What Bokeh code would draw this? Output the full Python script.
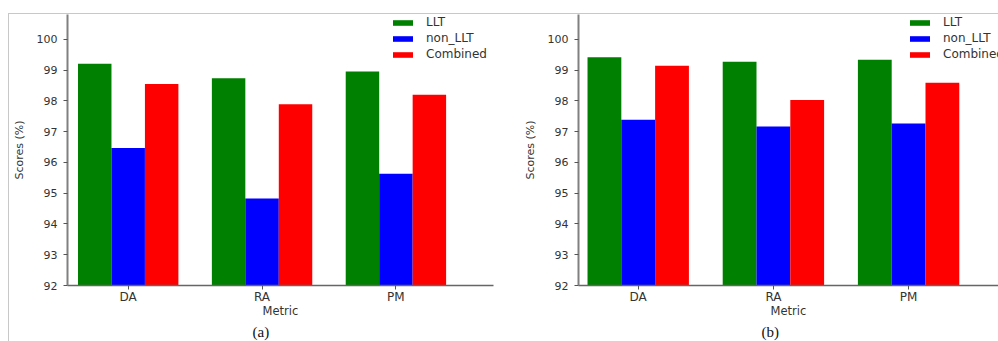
import numpy as np
from bokeh.plotting import figure
from bokeh.models import Range1d, FixedTicker, Title
from bokeh.layouts import row
from bokeh.embed import file_html
from bokeh.resources import INLINE

# ---- data ----
metrics = ["DA", "RA", "PM"]
series_names = ["LLT", "non_LLT", "Combined"]
series_colors = ["#008000", "#0000ff", "#ff0000"]

llt_a = [99.21, 98.74, 98.96]
non_llt_a = [96.47, 94.83, 95.63]
combined_a = [98.55, 97.89, 98.20]

llt_b = [99.42, 99.27, 99.34]
non_llt_b = [97.39, 97.17, 97.27]
combined_b = [99.14, 98.03, 98.59]

y_ticks = [92, 93, 94, 95, 96, 97, 98, 99, 100]

FONT = "DejaVu Sans"


def make_panel(series, x_range, width, mbl, mbr, caption, cap_offset, legend_x):
    p = figure(width=width, height=327,
               x_range=Range1d(*x_range), y_range=Range1d(92, 100.81),
               output_backend="svg", toolbar_location=None,
               min_border_left=mbl, min_border_right=mbr,
               min_border_top=0, min_border_bottom=56)
    p.outline_line_color = None
    p.grid.visible = False
    p.background_fill_color = "white"
    p.border_fill_color = "white"

    idx = np.arange(len(metrics))
    bw = 0.25
    for k, (vals, name, color) in enumerate(zip(series, series_names, series_colors)):
        p.vbar(x=idx + (k - 1) * bw, top=vals, bottom=0, width=bw,
               fill_color=color, line_color=None, legend_label=name)

    # y axis
    ya = p.yaxis[0]
    ya.ticker = FixedTicker(ticks=y_ticks)
    ya.axis_line_color = "#808080"
    ya.axis_line_width = 2
    ya.major_tick_line_color = "#555555"
    ya.major_tick_out = 4
    ya.major_tick_in = 0
    ya.minor_tick_line_color = None
    ya.major_label_standoff = 6
    ya.major_label_text_font = FONT
    ya.major_label_text_font_size = "11px"
    ya.major_label_text_color = "#333333"
    ya.axis_label = "Scores (%)"
    ya.axis_label_text_font = FONT
    ya.axis_label_text_font_size = "11px"
    ya.axis_label_text_font_style = "normal"
    ya.axis_label_text_color = "#333333"
    ya.axis_label_standoff = 8

    # x axis
    xa = p.xaxis[0]
    xa.ticker = FixedTicker(ticks=list(idx))
    xa.major_label_overrides = {int(i): m for i, m in zip(idx, metrics)}
    xa.axis_line_color = "#666666"
    xa.axis_line_width = 1.5
    xa.major_tick_line_color = "#555555"
    xa.major_tick_out = 4
    xa.major_tick_in = 0
    xa.minor_tick_line_color = None
    xa.major_label_standoff = 0
    xa.major_label_text_font = FONT
    xa.major_label_text_font_size = "12px"
    xa.major_label_text_color = "#333333"
    xa.axis_label = "Metric"
    xa.axis_label_text_font = FONT
    xa.axis_label_text_font_size = "11.5px"
    xa.axis_label_text_font_style = "normal"
    xa.axis_label_text_color = "#333333"
    xa.axis_label_standoff = -3

    lg = p.legend[0]
    lg.location = (legend_x, 224)
    lg.padding = 0
    lg.margin = 0
    lg.spacing = 2
    lg.label_height = 13
    lg.glyph_height = 7
    lg.glyph_width = 25
    lg.label_standoff = 11
    lg.label_text_font = FONT
    lg.label_text_font_size = "12px"
    lg.label_text_color = "#333333"
    lg.border_line_alpha = 0
    lg.background_fill_alpha = 0

    p.add_layout(Title(text=caption, align="left", offset=cap_offset,
                       text_font="Liberation Serif", text_font_size="15px",
                       text_font_style="normal", text_color="#111111",
                       standoff=3), "below")
    return p


p1 = make_panel([llt_a, non_llt_a, combined_a], (-0.4535, 2.729), 511, 56, 27,
                "(a)", 185, 323)
p2 = make_panel([llt_b, non_llt_b, combined_b], (-0.4417, 2.665), 478, 56, 0,
                "(b)", 183, 329)

layout = row(p1, p2, styles={"margin-top": "13px",
                             "margin-left": "8px",
                             "border-top": "1px solid #c8c8c8",
                             "border-left": "1px solid #c8c8c8",
                             "margin-bottom": "-20px"})

open("out.html", "w").write(file_html(layout, INLINE))
